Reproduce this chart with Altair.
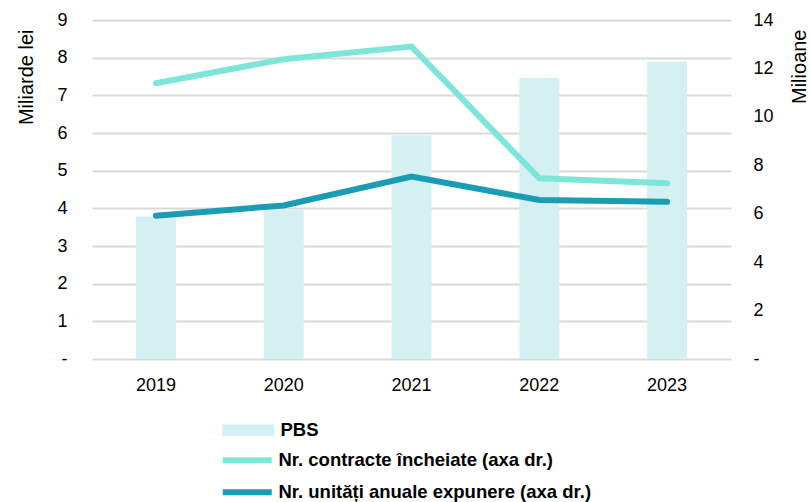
import altair as alt
import pandas as pd

# Annual values
years = ["2019", "2020", "2021", "2022", "2023"]
pbs = [3.78, 3.97, 5.94, 7.46, 7.90]              # miliarde lei (left axis)
contracte = [11.39, 12.38, 12.90, 7.46, 7.26]     # milioane (right axis)
unitati = [5.92, 6.34, 7.53, 6.57, 6.49]          # milioane (right axis)

bar_name = "PBS"
line_names = ["Nr. contracte încheiate (axa dr.)", "Nr. unități anuale expunere (axa dr.)"]
bar_color = "#d4f0f2"
line_colors = ["#7de6d9", "#1a9cb5"]

FONT = "Liberation Sans"

bars_df = pd.DataFrame({"an": years, "valoare": pbs, "serie": bar_name})
lines_df = pd.concat([
    pd.DataFrame({"an": years, "valoare": contracte, "serie": line_names[0]}),
    pd.DataFrame({"an": years, "valoare": unitati, "serie": line_names[1]}),
])

x_enc = alt.X(
    "an:N", title=None,
    axis=alt.Axis(labelAngle=0, domain=False, ticks=False, labelPadding=17,
                  labelFontSize=18, labelFont=FONT, labelColor="#000000"),
)

bars = alt.Chart(bars_df).mark_bar(size=40).encode(
    x=x_enc,
    y=alt.Y(
        "valoare:Q",
        scale=alt.Scale(domain=[0, 9], nice=False),
        axis=alt.Axis(
            title="Miliarde lei", values=list(range(0, 10)),
            labelExpr="datum.value == 0 ? '-\u00a0\u00a0' : datum.label",
            domain=False, ticks=False, labelPadding=25,
            grid=True, gridColor="#d9d9d9", gridWidth=2,
            labelFontSize=18, labelFont=FONT, labelColor="#000000",
            titleFontSize=20, titleFont=FONT, titleFontWeight="normal", titleColor="#000000",
            titleAngle=270, titleAlign="right", titleBaseline="middle",
            titleX=-66, titleY=9,
        ),
    ),
    fill=alt.Fill(
        "serie:N",
        scale=alt.Scale(domain=[bar_name], range=[bar_color]),
        legend=alt.Legend(
            title=None, orient="none", legendX=147, legendY=401,
            symbolType="M-5.2,-1.15H5.2V1.15H-5.2Z", symbolSize=100,
            symbolStrokeWidth=0, labelOffset=23, padding=0,
            labelFontSize=18.5, labelFont=FONT, labelFontWeight="bold",
            labelColor="#000000", labelLimit=0,
        ),
    ),
)

lines = alt.Chart(lines_df).mark_line(strokeWidth=6, strokeCap="round").encode(
    x=x_enc,
    y=alt.Y(
        "valoare:Q",
        scale=alt.Scale(domain=[0, 14], nice=False),
        axis=alt.Axis(
            orient="right", title="Milioane", values=list(range(0, 15, 2)),
            labelExpr="datum.value == 0 ? '\u00a0-' : datum.label",
            domain=False, ticks=False, grid=False, labelPadding=22,
            labelFontSize=18, labelFont=FONT, labelColor="#000000",
            titleFontSize=20, titleFont=FONT, titleFontWeight="normal", titleColor="#000000",
            titleAngle=270, titleAlign="right", titleBaseline="middle",
            titleX=68, titleY=9,
        ),
    ),
    stroke=alt.Stroke(
        "serie:N",
        scale=alt.Scale(domain=line_names, range=line_colors),
        legend=alt.Legend(
            title=None, orient="none", legendX=146, legendY=431,
            symbolType="M-4.9,0H4.9", symbolSize=100, symbolStrokeWidth=6,
            labelOffset=22, padding=0, rowPadding=7,
            labelFontSize=18.5, labelFont=FONT, labelFontWeight="bold",
            labelColor="#000000", labelLimit=0,
        ),
    ),
    order=alt.Order("an:N"),
)

chart = (
    alt.layer(bars, lines)
    .resolve_scale(y="independent")
    .properties(
        width=639, height=339,
        autosize=alt.AutoSizeParams(type="none"),
        padding={"left": 92, "top": 20, "right": 80, "bottom": 143},
    )
    .configure_view(stroke=None)
)

chart.save("out.html", embed_options={"renderer": "svg", "actions": False})
